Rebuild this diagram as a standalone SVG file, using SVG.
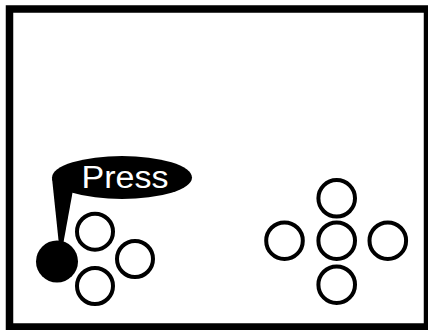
<svg xmlns="http://www.w3.org/2000/svg" width="428" height="330" viewBox="0 0 428 330">
  <style>
    .btn { fill: none; stroke: #000; stroke-width: 4; }
    .label { font-family: "Liberation Sans", Arial, sans-serif; font-size: 31px; fill: #fff; }
  </style>
  <rect x="0" y="0" width="428" height="330" fill="#fff"/>
  <rect id="frame" x="9.5" y="9" width="418" height="318" fill="#fff" stroke="#000" stroke-width="7.5"/>
  <g id="callout">
    <ellipse cx="122" cy="177.5" rx="70" ry="21.5" fill="#000"/>
    <polygon points="52,178 73,190 63,245 59,245" fill="#000"/>
    <text class="label" x="81.5" y="187.5" textLength="87" lengthAdjust="spacingAndGlyphs">Press</text>
  </g>
  <g id="stick">
    <circle cx="57" cy="261.5" r="21" fill="#000"/>
  </g>
  <g id="left-buttons">
    <circle id="lb-top" class="btn" cx="95" cy="231.7" r="18"/>
    <circle id="lb-right" class="btn" cx="135" cy="259" r="18"/>
    <circle id="lb-bottom" class="btn" cx="95" cy="286" r="18"/>
  </g>
  <g id="right-buttons">
    <circle id="rb-top" class="btn" cx="336.7" cy="198.3" r="18.3"/>
    <circle id="rb-center" class="btn" cx="336.7" cy="240.7" r="18.3"/>
    <circle id="rb-left" class="btn" cx="284.5" cy="240.7" r="18.3"/>
    <circle id="rb-right" class="btn" cx="387.8" cy="240.7" r="18.3"/>
    <circle id="rb-bottom" class="btn" cx="336.7" cy="284.7" r="18.3"/>
  </g>
  <g id="connectors"/>
</svg>
